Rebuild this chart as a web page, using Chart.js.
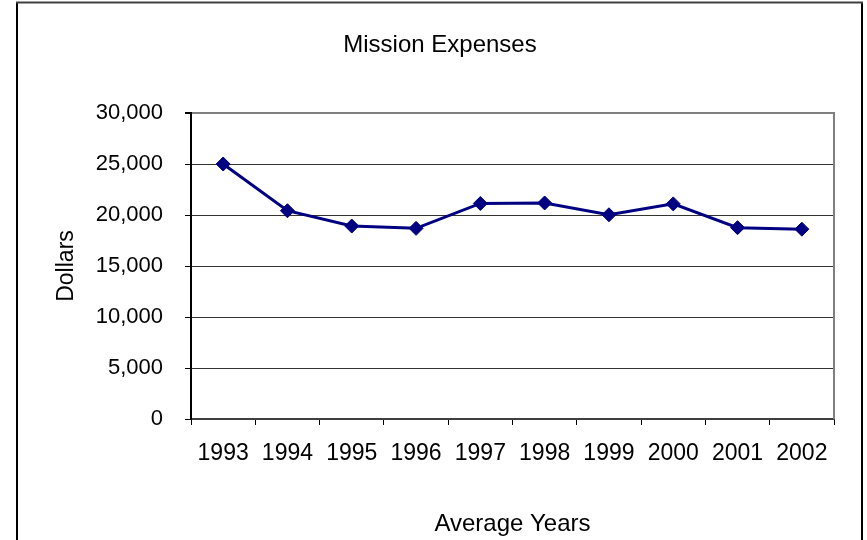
<!DOCTYPE html>
<html>
<head>
<meta charset="utf-8">
<script src="https://cdn.jsdelivr.net/npm/chart.js@4"></script>
<style>
html,body{margin:0;padding:0;background:#fff;}
#wrap{width:867px;height:540px;position:relative;}
</style>
</head>
<body>
<div id="wrap"><canvas id="c" width="867" height="540"></canvas></div>
<script>
// ---- data ----
const years = ['1993','1994','1995','1996','1997','1998','1999','2000','2001','2002'];
const expenses = [25000, 20420, 18920, 18690, 21130, 21180, 20020, 21090, 18760, 18610];
const yMin = 0;
const yMax = 30000;
const yStep = 5000;
const chartTitle = 'Mission Expenses';
const xTitle = 'Average Years';
const yTitle = 'Dollars';

const FONT = "'Liberation Sans', Arial, sans-serif";

const framePlugin = {
  id: 'frame',
  beforeDraw(chart) {
    const ctx = chart.ctx;
    ctx.save();
    ctx.fillStyle = '#fff';
    ctx.fillRect(0, 0, chart.width, chart.height);
    ctx.restore();
  },
  afterDraw(chart) {
    const ctx = chart.ctx;
    const a = chart.chartArea;
    ctx.save();
    // plot area right border
    ctx.strokeStyle = '#808080';
    ctx.lineWidth = 2;
    ctx.beginPath();
    ctx.moveTo(a.right, a.top - 1);
    ctx.lineTo(a.right, a.bottom);
    ctx.stroke();
    // outer chart border
    ctx.strokeStyle = '#000';
    ctx.lineWidth = 2;
    ctx.beginPath();
    ctx.moveTo(17, 541);
    ctx.lineTo(17, 2.5);
    ctx.stroke();
    ctx.beginPath();
    ctx.moveTo(862, 2.5);
    ctx.lineTo(862, 541);
    ctx.stroke();
    ctx.strokeStyle = '#404040';
    ctx.beginPath();
    ctx.moveTo(16, 2.5);
    ctx.lineTo(863, 2.5);
    ctx.stroke();
    ctx.restore();
  }
};

new Chart(document.getElementById('c'), {
  type: 'line',
  data: {
    labels: years,
    datasets: [{
      data: expenses,
      yAxisID: 'y',
      borderColor: '#000080',
      backgroundColor: '#000080',
      borderWidth: 3,
      tension: 0,
      pointStyle: 'rectRot',
      pointRadius: 7,
      pointBorderWidth: 1,
      pointBackgroundColor: '#000080',
      pointBorderColor: '#000080',
      fill: false
    }]
  },
  options: {
    responsive: false,
    devicePixelRatio: 1,
    animation: false,
    layout: { padding: { left: 13, right: 0, top: 0, bottom: 0 } },
    plugins: {
      legend: { display: false },
      tooltip: { enabled: false },
      title: {
        display: true,
        text: chartTitle,
        color: '#000',
        fullSize: true,
        font: { family: FONT, size: 24, weight: 'normal' },
        padding: { top: 30.6, bottom: 53.6 }
      }
    },
    scales: {
      x: {
        type: 'category',
        offset: true,
        grid: {
          offset: true,
          drawOnChartArea: false,
          drawTicks: true,
          tickLength: 6,
          tickColor: '#000',
          tickWidth: 1
        },
        border: { display: true, color: '#404040', width: 2 },
        ticks: {
          color: '#000',
          font: { family: FONT, size: 23 },
          padding: 15,
          maxRotation: 0,
          autoSkip: false
        },
        title: {
          display: true,
          text: xTitle,
          color: '#000',
          font: { family: FONT, size: 24 },
          padding: { top: 0, bottom: 1.6 }
        },
        afterFit(scale) { scale.height = 121; }
      },
      y: {
        min: yMin,
        max: yMax,
        grid: {
          color: (c) => (c.tick && c.tick.value === yMax) ? '#808080' : '#333',
          lineWidth: (c) => (c.tick && c.tick.value === yMax) ? 2 : 1,
          drawTicks: true,
          tickLength: 6,
          tickColor: '#000'
        },
        border: { display: true, color: '#000', width: 2 },
        ticks: {
          stepSize: yStep,
          color: '#000',
          font: { family: FONT, size: 22 },
          padding: 22
        },
        title: {
          display: true,
          text: yTitle,
          color: '#000',
          font: { family: FONT, size: 23 },
          padding: { top: 40, bottom: 0 }
        },
        afterFit(scale) { scale.width = 178; }
      },
      yRightSpace: {
        type: 'linear',
        position: 'right',
        display: true,
        grid: { display: false, drawTicks: false },
        border: { display: false },
        ticks: { display: false },
        title: { display: false },
        afterFit(scale) { scale.width = 33; }
      }
    }
  },
  plugins: [framePlugin]
});
</script>
</body>
</html>
